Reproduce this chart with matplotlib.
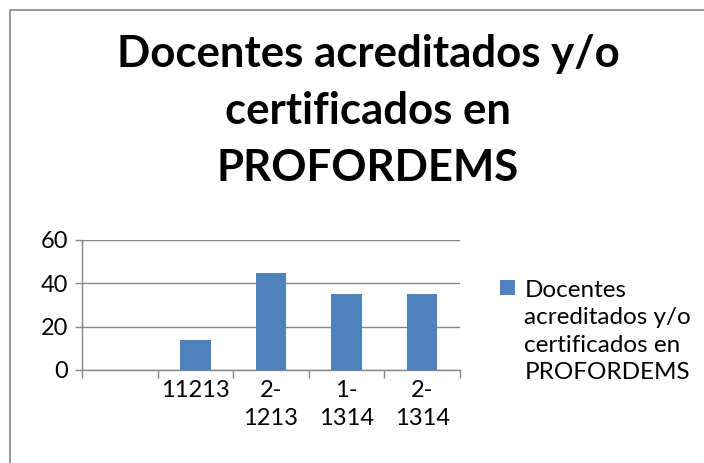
import matplotlib
matplotlib.use('Agg')
import matplotlib.pyplot as plt
from matplotlib.patches import Rectangle

categories = ['', '11213', '2-\n1213', '1-\n1314', '2-\n1314']
values = [0, 14, 45, 35, 35]
series_name = 'Docentes\nacreditados y/o\ncertificados en\nPROFORDEMS'
title = 'Docentes acreditados y/o\ncertificados en\nPROFORDEMS'

plt.rcParams['font.family'] = ['Lato', 'DejaVu Sans']
bar_color = '#4F81BD'
line_color = '#868686'

fig = plt.figure(figsize=(7.04, 4.63), dpi=100)
ax = fig.add_axes([82 / 704, 1 - 370 / 463, 378 / 704, 130 / 463])

# outer chart frame (right and bottom edges fall outside the image)
fig.patches.append(Rectangle((10 / 704, -0.1), 1.2, 1.1 - 10 / 463,
                             transform=fig.transFigure, fill=False,
                             edgecolor=line_color, linewidth=1.2))

x = list(range(len(categories)))
ax.bar(x, values, width=0.4, color=bar_color, label=series_name, zorder=3)

ax.set_xlim(-0.5, len(categories) - 0.5)
ax.set_ylim(0, 60)
ax.set_yticks([0, 20, 40, 60])
ax.yaxis.grid(True, color=line_color, linewidth=1)
ax.set_axisbelow(True)

ax.set_xticks(x)
ax.set_xticklabels(categories, fontsize=17, linespacing=1.4)
ax.set_xticks([i - 0.5 for i in range(len(categories) + 1)], minor=True)
ax.tick_params(axis='x', which='major', length=0, pad=7)
ax.tick_params(axis='x', which='minor', length=6, color=line_color, width=1)
ax.tick_params(axis='y', length=5, color=line_color, width=1, labelsize=17, pad=5)

for side in ['top', 'right']:
    ax.spines[side].set_visible(False)
for side in ['left', 'bottom']:
    ax.spines[side].set_color(line_color)
    ax.spines[side].set_linewidth(1)

fig.text(368 / 704, 1 - 34 / 463, title, ha='center', va='top',
         fontsize=31.5, fontweight='bold', linespacing=1.52)

leg = ax.legend(loc='upper left', bbox_to_anchor=(500 / 704, 1 - 280 / 463),
                bbox_transform=fig.transFigure, frameon=False, fontsize=17.5,
                handlelength=0.6, handleheight=0.6, handletextpad=0.4,
                borderpad=0, borderaxespad=0)
for t in leg.get_texts():
    t.set_linespacing(1.38)
# put the colour square next to the first line of the label
for column in leg._legend_handle_box.get_children():
    for item in column.get_children():
        item.align = 'top'

fig.savefig('out.png', dpi=100)
